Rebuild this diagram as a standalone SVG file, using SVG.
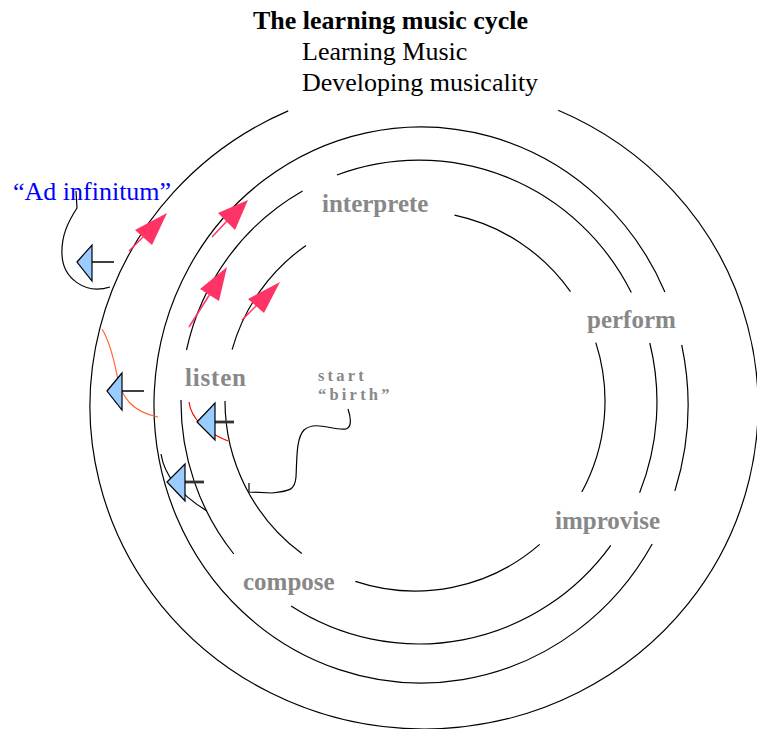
<svg xmlns="http://www.w3.org/2000/svg" width="757" height="729" viewBox="0 0 757 729">
<style>
.ring{fill:none;stroke:#000;stroke-width:1.2}
.lbl{font-family:"Liberation Serif",serif;font-weight:bold;fill:#888;font-size:25px}
.small{font-family:"Liberation Serif",serif;font-weight:bold;fill:#888;font-size:16.5px;letter-spacing:3.2px}
.ttl{font-family:"Liberation Serif",serif;fill:#000;font-size:26px}
.pink{fill:#ff3366;stroke:none}
.pshaft{stroke:#ff3366;stroke-width:1.5;fill:none}
.tri{fill:#99ccff;stroke:#000;stroke-width:1.2;stroke-linejoin:miter}
.tline{stroke:#000;stroke-width:1.5}
.tthick{stroke:#333;stroke-width:2.8}
.conn{fill:none;stroke:#000;stroke-width:1.2}
</style>
<rect width="757" height="729" fill="#fff"/>
<g id="title">
<text class="ttl" x="253" y="29" font-weight="bold">The learning music cycle</text>
<text class="ttl" x="302" y="60">Learning Music</text>
<text class="ttl" x="302" y="91">Developing musicality</text>
</g>
<g id="rings">
<path id="ring1" class="ring" d="M558.2,110.2 A334 323 0 1 1 288.2,110.9"/>
<path id="ring2" class="ring" d="M652.2,544 A267 278 0 1 1 664.9,291.9 M681.7,344.8 A267 278 0 0 1 674.9,490.9"/>
<path id="ring3" class="ring" d="M336.9,175 A238 242 0 0 1 631.3,292.6 M649.8,343 A238 242 0 0 1 639.6,492.7 M610.8,545.3 A238 242 0 0 1 291.1,606 M233.8,554 A238 242 0 0 1 181,400 M186.5,350 A238 242 0 0 1 302.6,190.9"/>
<path id="ring4" class="ring" d="M454.5,215.2 A190 190 0 0 1 570.5,291.7 M595.8,342.6 A190 190 0 0 1 581.8,492 M539.7,544.4 A190 190 0 0 1 355.3,581.4 M301.8,553.6 A190 190 0 0 1 225,401 M232.1,349.6 A190 190 0 0 1 306,245.4"/>
</g>
<g id="connectors">
<path class="conn" d="M76,191 L77,208 C68,222 61,236 62,255 C63,278 85,295 110,287"/>
<path fill="none" stroke="#ff6633" stroke-width="1.2" d="M102,329 C110,342 114,360 117,375 C121,398 133,412 158,417"/>
<path fill="none" stroke="#ff0000" stroke-width="1.2" d="M189,402 C191,418 205,432 228,441"/>
<path class="conn" d="M161,454 Q166,486 207,511"/>
<path class="conn" d="M348,409 C351,418 352,427 346,429 C333,431 316,420 304,430 C296,438 297,460 296,477 C295,490 290,491 272,493 L249,492 L249,483"/>
</g>
<g id="pink-arrows">
<line class="pshaft" x1="129" y1="251" x2="144" y2="236"/>
<polygon class="pink" points="167,213 135,230 152,245"/>
<line class="pshaft" x1="212" y1="237" x2="227" y2="221"/>
<polygon class="pink" points="248,200 218,213 235,230"/>
<line class="pshaft" x1="189" y1="327" x2="210" y2="294"/>
<polygon class="pink" points="227,267 200,289 219,301"/>
<line class="pshaft" x1="242" y1="320" x2="257" y2="305"/>
<polygon class="pink" points="280,282 248,299 264,313"/>
</g>
<g id="blue-markers">
<line class="tline" x1="92" y1="262" x2="114" y2="262"/>
<polygon class="tri" points="77,262 92,245 92,281"/>
<line class="tline" x1="122" y1="391" x2="144" y2="391"/>
<polygon class="tri" points="107,391 122,373 122,410"/>
<line class="tthick" x1="215" y1="422" x2="234" y2="422"/>
<polygon class="tri" points="197,422 215,403 215,440"/>
<line class="tthick" x1="185" y1="482" x2="204" y2="482"/>
<polygon class="tri" points="167,482 185,464 185,501"/>
</g>
<g id="node-interprete"><text class="lbl" x="322" y="212">interprete</text></g>
<g id="node-perform"><text class="lbl" x="587" y="328">perform</text></g>
<g id="node-improvise"><text class="lbl" x="555" y="529">improvise</text></g>
<g id="node-compose"><text class="lbl" x="243" y="590">compose</text></g>
<g id="node-listen"><text class="lbl" x="185" y="386" letter-spacing="0.8">listen</text></g>
<g id="node-start">
<text class="small" x="318" y="381">start</text>
<text class="small" x="318" y="400">“birth”</text>
</g>
<g id="node-adinfinitum"><text x="13" y="200" font-family="'Liberation Serif',serif" font-size="26" fill="#0000ff">“Ad infinitum”</text></g>
</svg>
